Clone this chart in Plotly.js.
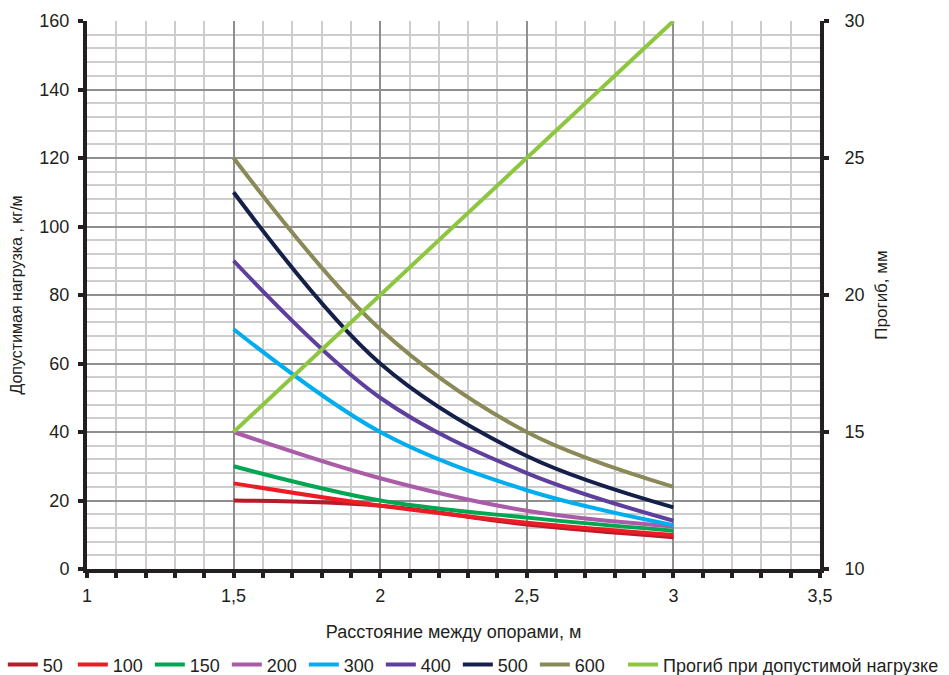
<!DOCTYPE html>
<html>
<head>
<meta charset="utf-8">
<script src="https://cdn.plot.ly/plotly-3.0.1.min.js"></script>
<style>html,body{margin:0;padding:0;background:#fff;}#chart{width:949px;height:675px;}</style>
</head>
<body>
<div id="chart"></div>
<script>
// Расстояние между опорами, м
const spans = [1.5, 2, 2.5, 3];
// Допустимая нагрузка, кг/м
const load50  = [20, 18.5, 13, 9.3];
const load100 = [25, 18.5, 13.5, 9.9];
const load150 = [30, 20, 15, 11.2];
const load200 = [40, 26.5, 17, 12.4];
const load300 = [70, 40, 23, 12.8];
const load400 = [90, 50, 28, 14.1];
const load500 = [110, 60, 33, 18];
const load600 = [120, 70, 40, 24];
// Прогиб, мм
const deflection = [15, 20, 25, 30];

const seriesNames = ['50', '100', '150', '200', '300', '400', '500', '600'];
const seriesData = [load50, load100, load150, load200, load300, load400, load500, load600];
const seriesColors = ['#b71c2b', '#ed1c24', '#00a651', '#aa5ca8', '#00aeef', '#5f3f9d', '#14204a', '#898a57'];

const font = 'Liberation Sans, Arial, sans-serif';

const traces = seriesData.map((ys, i) => ({
  x: spans, y: ys, name: seriesNames[i], type: 'scatter', mode: 'lines',
  line: {color: seriesColors[i], width: 4, shape: 'spline', smoothing: 1},
  legend: 'legend', legendwidth: i === 0 ? 25 : 32,
  hoverinfo: 'x+y'
}));
traces.push({
  x: spans, y: deflection, name: 'Прогиб при допустимой нагрузке', type: 'scatter', mode: 'lines',
  yaxis: 'y2', line: {color: '#8dc63f', width: 4}, legend: 'legend2'
});

const legendStyle = {
  orientation: 'h', xref: 'container', yref: 'container', y: 0.015,
  xanchor: 'left', yanchor: 'middle', font: {family: font, size: 18, color: '#231f20'},
  itemwidth: 30, bgcolor: 'rgba(0,0,0,0)', traceorder: 'normal',
  itemclick: false, itemdoubleclick: false
};

const layout = {
  width: 949, height: 675,
  margin: {l: 87, r: 129, t: 21, b: 106},
  paper_bgcolor: '#fff', plot_bgcolor: '#fff',
  separators: ', ',
  font: {family: font, size: 18, color: '#231f20'},
  showlegend: true,
  legend: Object.assign({}, legendStyle, {x: 0.003, entrywidthmode: 'pixels'}),
  legend2: Object.assign({}, legendStyle, {x: 0.6565}),
  xaxis: {
    range: [1, 3.5], tickvals: [1, 1.5, 2, 2.5, 3, 3.5], ticktext: ['1', '1,5', '2', '2,5', '3', '3,5'],
    showgrid: true, gridcolor: '#8f8f8f', gridwidth: 2,
    showline: true, linecolor: '#231f20', linewidth: 4,
    ticks: 'outside', ticklen: 5, tickwidth: 4, tickcolor: '#231f20', ticklabelstandoff: 2,
    minor: {dtick: 0.1, showgrid: true, gridcolor: '#cdcdcd', gridwidth: 1.5, ticks: 'outside', ticklen: 5, tickwidth: 4, tickcolor: '#231f20'},
    zeroline: false, fixedrange: true, automargin: 'left+right',
    title: {text: 'Расстояние между опорами, м', font: {family: font, size: 18}, standoff: 22}
  },
  yaxis: {
    range: [0, 160], dtick: 20, tick0: 0,
    showgrid: true, gridcolor: '#8f8f8f', gridwidth: 2,
    showline: true, linecolor: '#231f20', linewidth: 4,
    ticks: 'outside', ticklen: 5, tickwidth: 4, tickcolor: '#231f20', ticklabelstandoff: 5,
    minor: {dtick: 4, showgrid: true, gridcolor: '#cdcdcd', gridwidth: 1.5},
    zeroline: false, fixedrange: true,
    title: {text: 'Допустимая нагрузка , кг/м', font: {family: font, size: 16}, standoff: 14}
  },
  yaxis2: {
    overlaying: 'y', side: 'right', range: [10, 30], dtick: 5, tick0: 10,
    showgrid: false, showline: true, linecolor: '#231f20', linewidth: 4,
    ticks: 'outside', ticklen: 5, tickwidth: 4, tickcolor: '#231f20', ticklabelstandoff: 12,
    zeroline: false, fixedrange: true,
    title: {text: 'Прогиб, мм', font: {family: font, size: 17}, standoff: 12}
  }
};

Plotly.newPlot('chart', traces, layout, {displayModeBar: false, staticPlot: false});
</script>
</body>
</html>
